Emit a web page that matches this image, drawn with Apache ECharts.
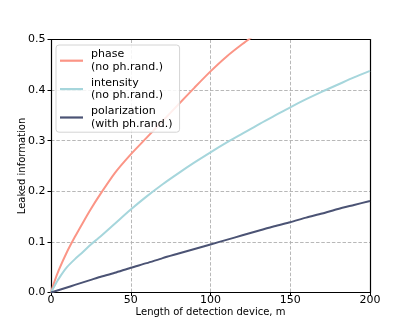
<!DOCTYPE html>
<html>
<head>
<meta charset="utf-8">
<script src="https://cdn.jsdelivr.net/npm/echarts@6/dist/echarts.min.js"></script>
<style>
  html, body { margin: 0; padding: 0; background: #fff; }
  #chart { width: 411px; height: 329px; }
</style>
</head>
<body>
<div id="chart"></div>
<script>
// Length of detection device, m
const lengths = [0, 2, 5, 10, 15, 20, 25, 30, 40, 50, 60, 70, 80, 90, 100, 110, 120, 130, 140, 150, 160, 170, 180, 190, 200]

// Leaked information per series
const phase = [0, 0.02, 0.045, 0.08, 0.11, 0.138, 0.165, 0.19, 0.236, 0.273, 0.306, 0.339, 0.372, 0.405, 0.437, 0.466, 0.491, 0.514, null, null, null, null, null, null, null]
const intensity = [0, 0.012, 0.028, 0.05, 0.066, 0.08, 0.095, 0.108, 0.136, 0.164, 0.19, 0.214, 0.236, 0.257, 0.277, 0.296, 0.314, 0.332, 0.349, 0.366, 0.382, 0.397, 0.411, 0.425, 0.438]
const polarization = [0, 0.002, 0.005, 0.01, 0.015, 0.02, 0.025, 0.03, 0.039, 0.049, 0.058, 0.068, 0.077, 0.086, 0.095, 0.104, 0.113, 0.122, 0.131, 0.139, 0.148, 0.156, 0.165, 0.173, 0.181]

const seriesNames = ['phase\n(no ph.rand.)', 'intensity\n(no ph.rand.)', 'polarization\n(with ph.rand.)']
const seriesColors = ['#fb9586', '#a6d6dc', '#4b5374']

const font = 'DejaVu Sans'

function pairs(values) {
  const out = []
  lengths.forEach((x, i) => {
    if (values[i] !== null) out.push([x, values[i]])
  })
  return out
}

const chart = echarts.init(document.getElementById('chart'), null, { renderer: 'canvas' })

const axisCommon = {
  type: 'value',
  axisLine: { show: true, lineStyle: { color: '#000', width: 1.2 } },
  axisTick: { show: true, inside: false, length: 3.5, lineStyle: { color: '#000', width: 1 } },
  splitLine: { show: true, lineStyle: { color: '#b0b0b0', width: 0.9, type: [3.5, 1.8] } },
  nameLocation: 'middle',
  nameMoveOverlap: false,
  nameTextStyle: { fontFamily: font, fontSize: 10, color: '#000' }
}

// top / right spines of the frame
const spine = {
  type: 'value',
  axisLine: { show: true, onZero: false, lineStyle: { color: '#000', width: 1.2 } },
  axisTick: { show: false },
  axisLabel: { show: false },
  splitLine: { show: false }
}

const option = {
  animation: false,
  backgroundColor: '#fff',
  grid: { left: 51, right: 41, top: 39.5, bottom: 36.5 },
  legend: {
    orient: 'vertical',
    left: 56,
    top: 45,
    padding: [3, 7, 2, 4],
    itemGap: 3,
    itemWidth: 23,
    itemHeight: 2.2,
    icon: 'rect',
    borderColor: '#d4d4d4',
    borderWidth: 1,
    borderRadius: 3,
    backgroundColor: 'rgba(255,255,255,0.85)',
    textStyle: { fontFamily: font, fontSize: 11, color: '#000', lineHeight: 12.7, padding: [0, 0, 0, 3] },
    data: seriesNames
  },
  xAxis: [
    {
      ...axisCommon,
      min: 0, max: 200, interval: 50,
      name: 'Length of detection device, m',
      nameGap: 15,
      axisLabel: { fontFamily: font, fontSize: 11, color: '#000', margin: 2.5 }
    },
    { ...spine, position: 'top', min: 0, max: 200 }
  ],
  yAxis: [
    {
      ...axisCommon,
      min: 0, max: 0.5, interval: 0.1,
      name: 'Leaked information',
      nameGap: 24,
      axisLabel: { fontFamily: font, fontSize: 11, color: '#000', margin: 5.5, formatter: v => v.toFixed(1) }
    },
    { ...spine, position: 'right', min: 0, max: 0.5 }
  ],
  series: [phase, intensity, polarization].map((values, i) => ({
    name: seriesNames[i],
    type: 'line',
    data: pairs(values),
    smooth: 0.25,
    showSymbol: false,
    clip: true,
    lineStyle: { color: seriesColors[i], width: 2 },
    itemStyle: { color: seriesColors[i] }
  }))
}

chart.setOption(option)
</script>
</body>
</html>
